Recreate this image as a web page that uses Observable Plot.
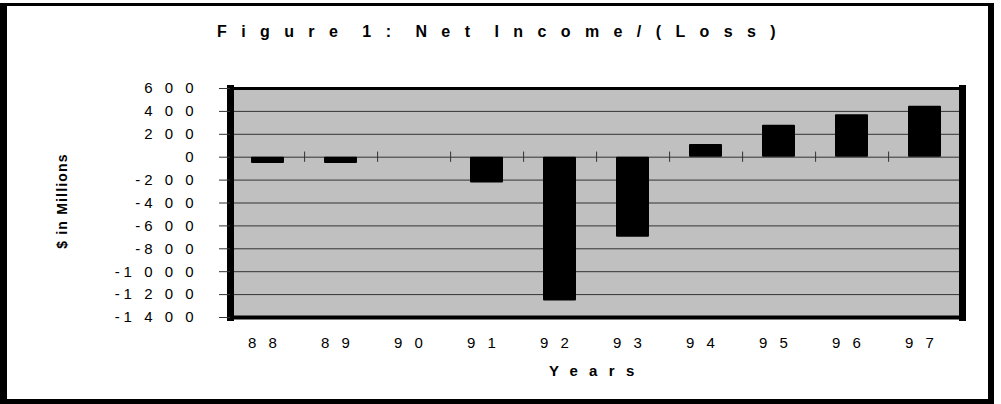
<!DOCTYPE html>
<html><head><meta charset="utf-8">
<script src="https://cdn.jsdelivr.net/npm/d3@7"></script>
<script src="https://cdn.jsdelivr.net/npm/@observablehq/plot@0.6"></script>
<style>
html,body{margin:0;padding:0;background:#fff;}
#wrap{position:relative;width:1001px;height:404px;overflow:hidden;font-family:Arial,"Liberation Sans",sans-serif;}
#plot{position:absolute;left:0;top:0;}
#border{position:absolute;left:0;top:3px;width:994px;height:401px;box-sizing:border-box;border-style:solid;border-color:#000;border-width:3px 6px 5px 7px;pointer-events:none;}
.t{position:absolute;white-space:nowrap;font-weight:bold;color:#000;line-height:1;}
#title{left:217px;top:23.8px;font-size:16px;line-height:16px;letter-spacing:14.4px;word-spacing:-8.8px;}
#ylab{left:62px;top:200.5px;font-size:14px;line-height:14px;letter-spacing:1.2px;transform:translate(-50%,-50%) rotate(-90deg);}
#xlab{left:549px;top:363px;font-size:15px;line-height:15px;letter-spacing:11.3px;}
#plot svg [aria-label="y-axis tick label"] text,
#plot svg [aria-label="x-axis tick label"] text{letter-spacing:4px;}
</style>
</head><body>
<div id="wrap">
  <div id="plot"></div>
  <div id="border"></div>
  <div class="t" id="title">Figure 1: Net Income/(Loss)</div>
  <div class="t" id="ylab">$ in Millions</div>
  <div class="t" id="xlab">Years</div>
</div>
<script>
// Data
const years = ["88", "89", "90", "91", "92", "93", "94", "95", "96", "97"];
const netIncome = [-55, -55, 0, -225, -1255, -700, 110, 280, 370, 445];
const yTicks = [600, 400, 200, 0, -200, -400, -600, -800, -1000, -1200, -1400];

const data = years.map((y, i) => ({year: y, value: netIncome[i]}));

const W = 1001, H = 404;
const mL = 230, mR = 39, mT = 88, mB = 87;
const step = (W - mL - mR) / years.length;

const spaced = d => String(d).split("").join(" ");
const yFmt = d => d < 0 ? "-" + spaced(-d) : spaced(d);

const chart = Plot.plot({
  width: W,
  height: H,
  marginLeft: mL,
  marginRight: mR,
  marginTop: mT,
  marginBottom: mB,
  style: {fontFamily: 'Arial, "Liberation Sans", sans-serif', fontSize: "15px", color: "#000", background: "transparent"},
  x: {domain: years, paddingInner: 0.55, paddingOuter: 0.275, label: null},
  y: {domain: [-1400, 600], label: null},
  marks: [
    Plot.frame({fill: "#c0c0c0", stroke: "none"}),
    Plot.gridY(yTicks, {stroke: "#333", strokeOpacity: 1, strokeWidth: 1}),
    Plot.ruleX(years.slice(0, -1), {x: d => d, y1: -45, y2: 45, dx: step / 2, stroke: "#333", strokeWidth: 1}),
    Plot.barY(data, {x: "year", y: "value", fill: "#000", rx: 1}),
    Plot.frame({anchor: "top", stroke: "#000", strokeWidth: 3}),
    Plot.frame({anchor: "bottom", stroke: "#000", strokeWidth: 4, strokeLinecap: "square"}),
    Plot.frame({anchor: "left", stroke: "#000", strokeWidth: 7, strokeLinecap: "square"}),
    Plot.frame({anchor: "right", stroke: "#000", strokeWidth: 7, strokeLinecap: "square"}),
    Plot.axisY(yTicks, {tickSize: 11, tickPadding: 22, tickFormat: yFmt, fontSize: 15, stroke: "#333", fill: "#000", label: null}),
    Plot.axisX({tickSize: 0, tickPadding: 20, tickFormat: spaced, dx: -3.5, fontSize: 15, fill: "#000", label: null})
  ]
});
document.getElementById("plot").appendChild(chart);
</script>
</body></html>
